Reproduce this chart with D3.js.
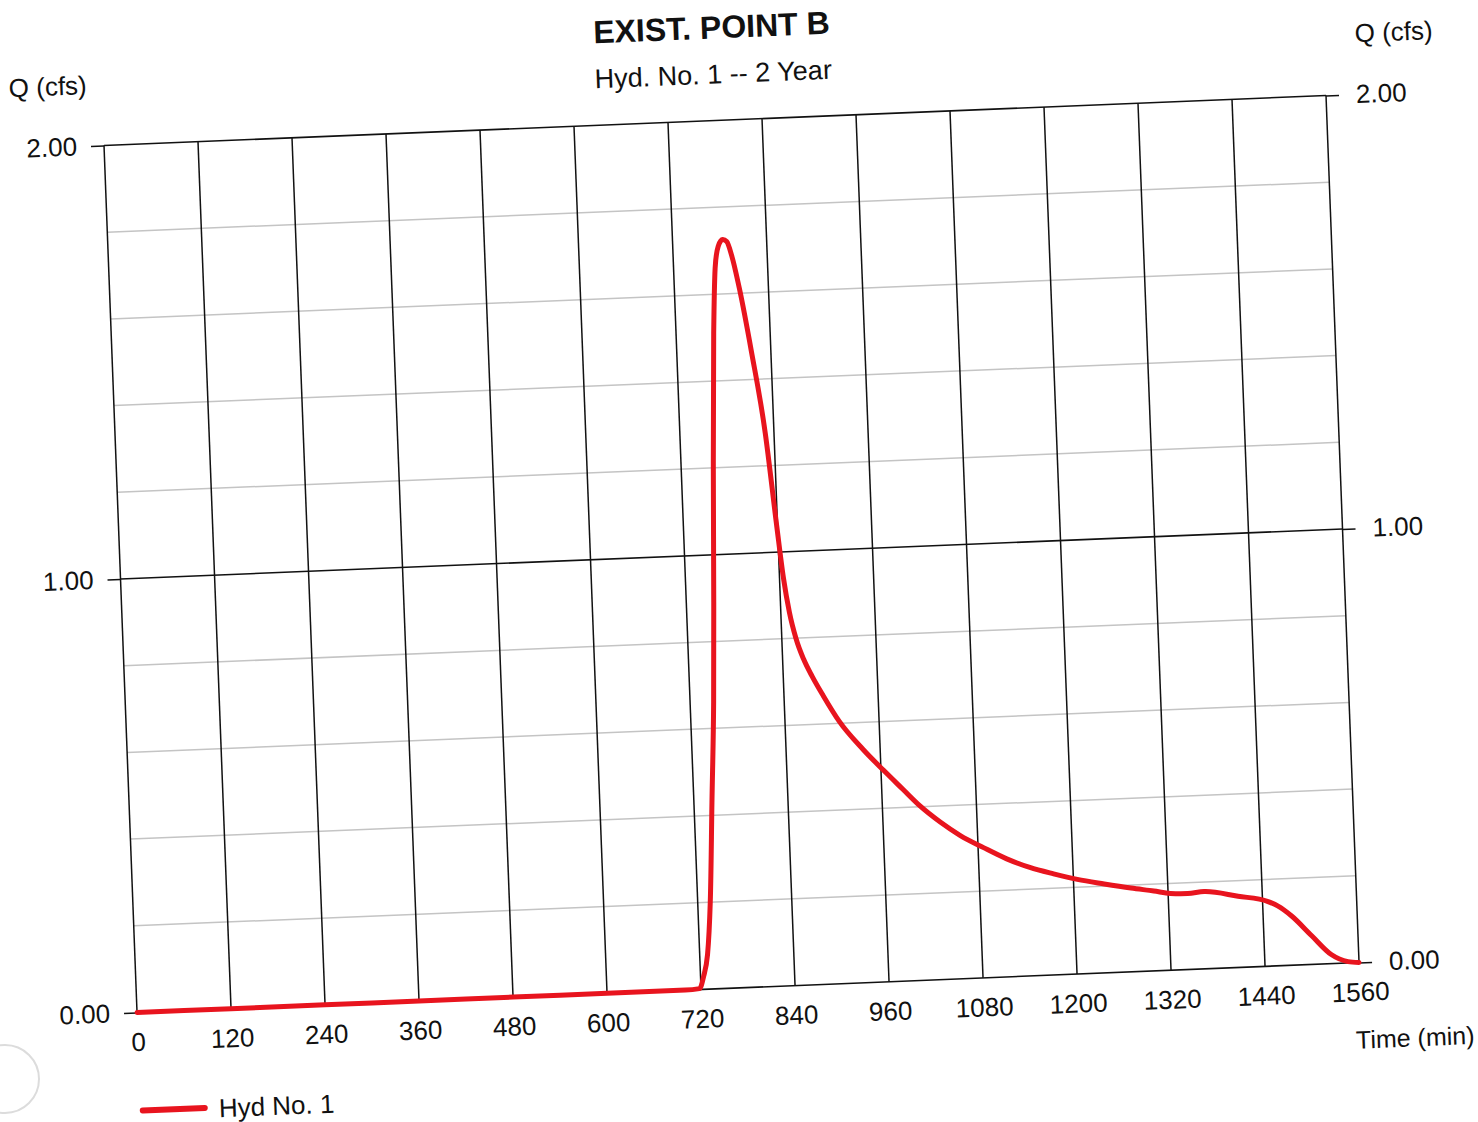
<!DOCTYPE html>
<html>
<head>
<meta charset="utf-8">
<script src="https://d3js.org/d3.v7.min.js"></script>
<style>
  body { margin: 0; background: #fff; }
  svg { display: block; }
  text { font-family: "Liberation Sans", Arial, sans-serif; fill: #111; }
</style>
</head>
<body>
<svg></svg>
<script>
// hydrograph values (time in min, flow in cfs)
var times = [0, 120, 240, 360, 480, 600, 700, 718, 724, 730, 736, 743, 750, 755, 761, 768, 773, 778, 784, 789, 795, 803, 815, 829, 839, 845, 851, 858, 867, 877, 890, 909, 938, 963, 987, 1008, 1033, 1058, 1087, 1116, 1145, 1175, 1205, 1239, 1273, 1302, 1323, 1345, 1366, 1409, 1447, 1459, 1476, 1501, 1525, 1546, 1560];
var flows = [0, 0, 0, 0, 0, 0, 0, 0.002, 0.03, 0.08, 0.20, 0.43, 0.66, 0.89, 1.20, 1.51, 1.66, 1.71, 1.725, 1.72, 1.685, 1.61, 1.467, 1.273, 1.06, 0.94, 0.86, 0.80, 0.75, 0.71, 0.665, 0.605, 0.538, 0.488, 0.442, 0.402, 0.363, 0.330, 0.300, 0.272, 0.250, 0.233, 0.218, 0.205, 0.193, 0.184, 0.177, 0.175, 0.178, 0.164, 0.149, 0.138, 0.114, 0.066, 0.021, 0.003, 0];
var xTicks = [0, 120, 240, 360, 480, 600, 720, 840, 960, 1080, 1200, 1320, 1440, 1560];
var yTicks = [0, 1, 2];
var yMinor = [0.2, 0.4, 0.6, 0.8, 1.2, 1.4, 1.6, 1.8];

var title = "EXIST. POINT B";
var subtitle = "Hyd. No. 1 -- 2 Year";
var seriesName = "Hyd No. 1";

var svg = d3.select("svg").attr("width", 1478).attr("height", 1122);
var W = 1222, H = 867;
var red = "#e8141e";

// faint hole-punch mark from the scan
svg.append("circle")
  .attr("cx", 5).attr("cy", 1079).attr("r", 34)
  .attr("fill", "none").attr("stroke", "#dcdcdc").attr("stroke-width", 2);

// the scanned page is slightly rotated, so the whole chart sits in a tilted group
var g = svg.append("g")
  .attr("transform", "matrix(1,-0.0409,0.0381,1,104,145.5)");

var x = d3.scaleLinear().domain([0, 1560]).range([0, W]);
var y = d3.scaleLinear().domain([0, 2]).range([H, 0]);

// minor horizontal grid
g.selectAll(".minor")
  .data(yMinor)
  .enter().append("line")
  .attr("x1", 0).attr("x2", W)
  .attr("y1", function(d) { return y(d); })
  .attr("y2", function(d) { return y(d); })
  .attr("stroke", "#c4c4c4").attr("stroke-width", 1.5);

// vertical grid
g.selectAll(".vgrid")
  .data(xTicks)
  .enter().append("line")
  .attr("x1", function(d) { return x(d); })
  .attr("x2", function(d) { return x(d); })
  .attr("y1", 0).attr("y2", H)
  .attr("stroke", "#111").attr("stroke-width", 1.5);

// major horizontal lines
g.selectAll(".major")
  .data(yTicks)
  .enter().append("line")
  .attr("x1", 0).attr("x2", W)
  .attr("y1", function(d) { return y(d); })
  .attr("y2", function(d) { return y(d); })
  .attr("stroke", "#111").attr("stroke-width", 1.6);

// axes
var fmt = d3.format(".2f");
var left = g.append("g")
  .call(d3.axisLeft(y).tickValues(yTicks).tickFormat(fmt).tickSize(13).tickPadding(14));
var right = g.append("g")
  .attr("transform", "translate(" + W + ",0)")
  .call(d3.axisRight(y).tickValues(yTicks).tickFormat(fmt).tickSize(13).tickPadding(17));
var bottom = g.append("g")
  .attr("transform", "translate(0," + H + ")")
  .call(d3.axisBottom(x).tickValues(xTicks).tickFormat(d3.format("d")).tickSize(0).tickPadding(20));

[left, right, bottom].forEach(function(a) {
  a.select(".domain").remove();
  a.attr("font-size", 26).attr("font-family", "Liberation Sans, Arial, sans-serif");
  a.selectAll("line").attr("stroke", "#111").attr("stroke-width", 1.6);
  a.selectAll("text").attr("fill", "#111");
});

// hydrograph line
var line = d3.line()
  .x(function(d) { return x(d[0]); })
  .y(function(d) { return y(d[1]); })
  .curve(d3.curveMonotoneX);

g.append("path")
  .datum(d3.zip(times, flows))
  .attr("d", line)
  .attr("fill", "none")
  .attr("stroke", red)
  .attr("stroke-width", 5)
  .attr("stroke-linejoin", "round")
  .attr("stroke-linecap", "round");

// titles and labels
g.append("text")
  .attr("x", W / 2).attr("y", -82)
  .attr("text-anchor", "middle")
  .attr("font-size", 32).attr("font-weight", "bold")
  .text(title);
g.append("text")
  .attr("x", W / 2).attr("y", -37)
  .attr("text-anchor", "middle")
  .attr("font-size", 27)
  .text(subtitle);
g.append("text")
  .attr("x", -93).attr("y", -52)
  .attr("font-size", 26)
  .text("Q (cfs)");
g.append("text")
  .attr("x", W + 31).attr("y", -52)
  .attr("font-size", 26)
  .text("Q (cfs)");
g.append("text")
  .attr("x", W - 6).attr("y", H + 86)
  .attr("font-size", 25)
  .text("Time (min)");

// legend
g.append("line")
  .attr("x1", 2).attr("x2", 64)
  .attr("y1", H + 98).attr("y2", H + 98)
  .attr("stroke", red).attr("stroke-width", 6)
  .attr("stroke-linecap", "round");
g.append("text")
  .attr("x", 78).attr("y", H + 108)
  .attr("font-size", 26)
  .text(seriesName);
</script>
</body>
</html>
